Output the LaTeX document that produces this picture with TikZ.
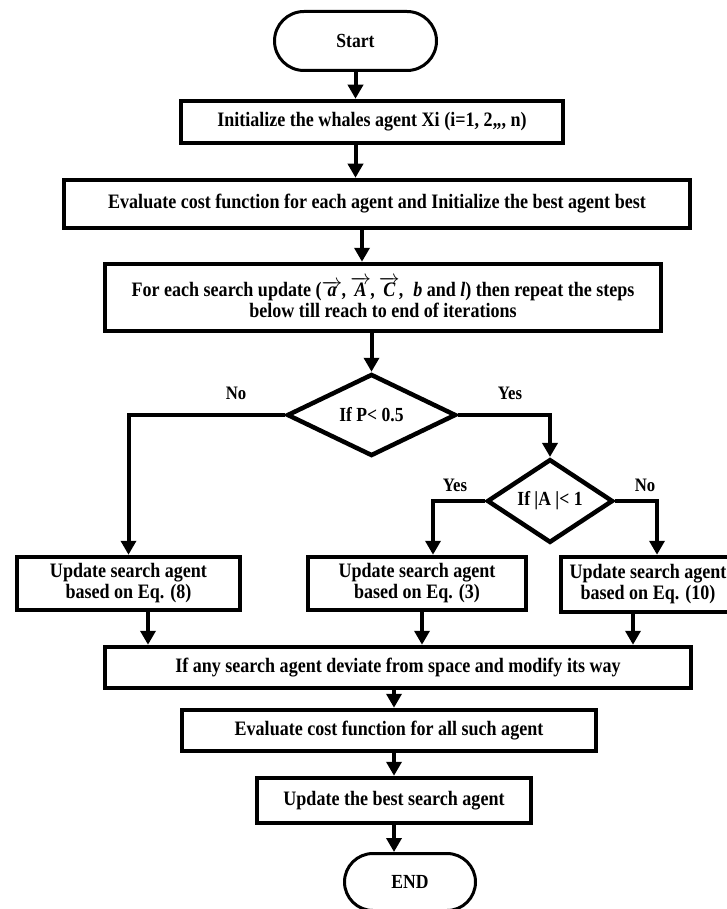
\documentclass[tikz,border=0pt]{standalone}
\usepackage{fontspec}
\setmainfont{Liberation Serif}[FakeStretch=0.88]
\usetikzlibrary{arrows.meta,positioning,shapes.geometric,shapes.misc}
\definecolor{ink}{HTML}{000000}
\tikzset{
  flowbox/.style={draw=ink,fill=white,line width=4.5pt,
                  align=center,inner sep=2pt,
                  font=\fontsize{20.5}{21}\selectfont\bfseries},
  termbox/.style={draw=ink,fill=white,rounded rectangle,line width=3pt,
                  inner sep=0pt,font=\fontsize{20}{21}\selectfont\bfseries},
  decbox/.style={draw=ink,fill=white,diamond,line width=4.5pt,
                 inner sep=0pt,font=\fontsize{20}{21}\selectfont\bfseries},
  branchlbl/.style={font=\fontsize{19}{21}\selectfont\bfseries},
  flowarr/.style={-{Triangle[length=14pt,width=15pt]},line width=4pt,draw=ink}
}

\begin{document}
\begin{tikzpicture}[x=1pt,y=-1pt]
  \useasboundingbox (0,0) rectangle (727,909);
  % main column
  \node[termbox,minimum width=162,minimum height=59] (start) at (355.5,41) {Start};
  \node[flowbox,minimum width=382,minimum height=42] (init) at (372,122)
    {Initialize the whales agent Xi (i=1, 2,,, n)};
  \node[flowbox,minimum width=626,minimum height=48] (evalcost) at (377,204)
    {Evaluate cost function for each agent and Initialize the best agent best};
  \node[flowbox,minimum width=556,minimum height=67] (update) at (383,297.5)
    {For each search update (\textit{$\overrightarrow{\textit{a}}$,\,$\overrightarrow{\textit{A}}$,\,$\overrightarrow{\textit{C}}$,\ \ b} and \textit{l}) then repeat the steps\\below till reach to end of iterations};
  \node[decbox,minimum width=169,minimum height=82] (ifp) at (371.5,415) {If P< 0.5};
  \node[decbox,minimum width=126,minimum height=68] (ifa) at (550,501) {If |A |< 1};
  % three update rules
  \node[flowbox,minimum width=223,minimum height=53] (upeight) at (128.5,583.5)
    {Update search agent\\based on Eq. (8)};
  \node[flowbox,minimum width=218,minimum height=53] (upthree) at (417,583.5)
    {Update search agent\\based on Eq. (3)};
  \node[flowbox,minimum width=174,minimum height=55] (upten) at (648,584.5)
    {Update search agent\\based on Eq. (10)};
  % closing steps
  \node[flowbox,minimum width=586,minimum height=41] (deviate) at (398,667.5)
    {If any search agent deviate from space and modify its way};
  \node[flowbox,minimum width=414,minimum height=41] (evalall) at (389,730.5)
    {Evaluate cost function for all such agent};
  \node[flowbox,minimum width=274,minimum height=45] (upbest) at (394,800.5)
    {Update the best search agent};
  \node[termbox,minimum width=131,minimum height=57] (finish) at (410,882) {END};

  \node[branchlbl] (nolbl) at (236,393) {No};
  \node[branchlbl] (yeslbl) at (510,393) {Yes};
  \node[branchlbl] (yesalbl) at (455,485) {Yes};
  \node[branchlbl] (noalbl) at (645,485) {No};

  \coordinate (s3) at ([xshift=-15pt]evalcost.south);
  \coordinate (y2) at ([xshift=16pt]upthree.north);
  \coordinate (n2) at ([xshift=9pt]upten.north);
  \coordinate (d1) at ([xshift=19.5pt]upeight.south);
  \coordinate (d2) at ([xshift=5pt]upthree.south);
  \coordinate (d3) at ([xshift=-15pt]upten.south);

  \draw[flowarr] (start.south) -- (start.south |- init.north);
  \draw[flowarr] (init.south -| start) -- (start |- evalcost.north);
  \draw[flowarr] (s3) -- (s3 |- update.north);
  \draw[flowarr] (update.south -| ifp.north) -- (ifp.north);
  \draw[flowarr] (ifp.west) -| (upeight.north);
  \draw[flowarr] (ifp.east) -| (ifa.north);
  \draw[flowarr] (ifa.west) -| (y2);
  \draw[flowarr] (ifa.east) -| (n2);
  \foreach \d in {d1,d2,d3}
    \draw[flowarr] (\d) -- (\d |- deviate.north);
  \draw[flowarr] (deviate.south -| upbest) -- (upbest |- evalall.north);
  \draw[flowarr] (evalall.south -| upbest) -- (upbest.north);
  \draw[flowarr] (upbest.south) -- (upbest.south |- finish.north);
\end{tikzpicture}
\end{document}
